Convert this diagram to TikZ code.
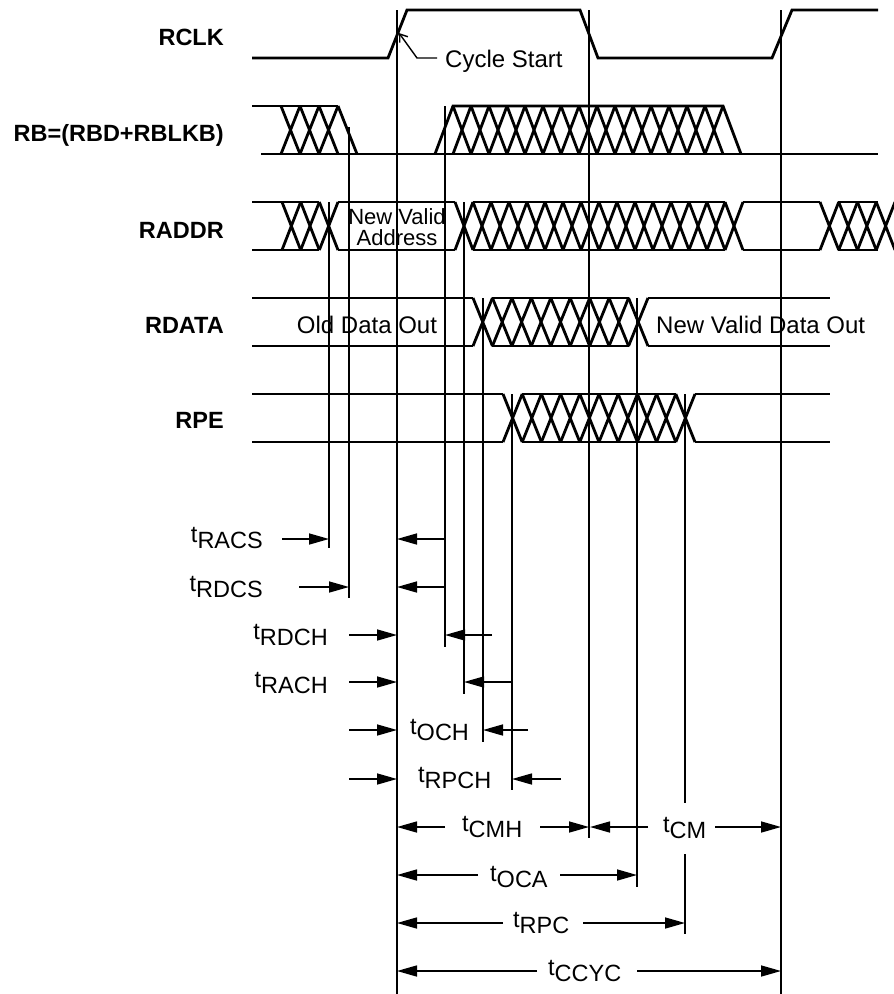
\documentclass[tikz,border=0pt]{standalone}
\usepackage{fontspec}
\setmainfont{Liberation Sans}
\usetikzlibrary{arrows.meta}
\newcommand\tsub[1]{t\raisebox{-6pt}{#1}}
\newcommand\xcells[5]{%
  \foreach \k in {1,...,#2}{%
    \pgfmathsetmacro\xa{#1+(\k-1)*#3}%
    \pgfmathsetmacro\xb{#1+\k*#3}%
    \draw[sig] (\xa,#4) -- (\xb,#5) (\xa,#5) -- (\xb,#4);}}
\begin{document}
\begin{tikzpicture}[x=1pt,y=-1pt,
  sig/.style={line width=2.8pt, line join=miter, line cap=butt},
  vline/.style={line width=1.6pt},
  arr/.style={line width=1.6pt,-{Triangle[length=20pt,width=11pt]}},
  siglabel/.style={font=\fontsize{23.5}{23.5}\selectfont\bfseries, anchor=base east, inner sep=0pt},
  txt/.style={font=\fontsize{24}{24}\selectfont, inner sep=0pt},
  tlabE/.style={font=\fontsize{23.5}{23.5}\selectfont, inner sep=0pt, anchor=base east},
  tlabW/.style={font=\fontsize{23.5}{23.5}\selectfont, inner sep=0pt, anchor=base west}
]
\useasboundingbox[fill=white] (0,0) rectangle (894,994);

% ---------- vertical timing lines ----------
\draw[vline] (329,202) -- (329,548);
\draw[vline] (349,127) -- (349,598);
\draw[vline] (397,10) -- (397,994);
\draw[vline] (445,106) -- (445,647);
\draw[vline] (464,202) -- (464,694);
\draw[vline] (483,298) -- (483,742);
\draw[vline] (512,394) -- (512,790);
\draw[vline] (589,10) -- (589,838);
\draw[vline] (637,298) -- (637,887);
\draw[vline] (685,394) -- (685,803) (685,854) -- (685,934);
\draw[vline] (781,10) -- (781,994);

% ---------- signal labels ----------
\node[siglabel] (lRCLK) at (224,45) {RCLK};
\node[siglabel] (lRB) at (224,141) {RB=(RBD+RBLKB)};
\node[siglabel] (lRADDR) at (224,238) {RADDR};
\node[siglabel] (lRDATA) at (224,333) {RDATA};
\node[siglabel] (lRPE) at (224,428) {RPE};

% ---------- RCLK ----------
\draw[sig] (252,58) -- (388,58) -- (407,10) -- (580,10) -- (598,58) -- (772,58) -- (792,10) -- (878,10);
\draw[line width=1.4pt, -{Straight Barb[length=7pt,width=10pt]}] (437,58) -- (417,58) -- (399,33);
\node[txt, anchor=base west] (cyc) at (445,67) {Cycle Start};

% ---------- RB ----------
\draw[sig] (252,106) -- (338,106);
\draw[sig] (261,154) -- (878,154);
\xcells{281}{3}{19}{106}{154}
\draw[sig] (338,106) -- (357,154);
\draw[sig] (435,154) -- (453,106) -- (723,106) -- (741,154);
\xcells{453}{15}{18}{106}{154}

% ---------- RADDR ----------
\draw[sig] (252,202) -- (319.3,202) (252,250) -- (319.3,250);
\xcells{282}{3}{18.667}{202}{250}
\draw[sig] (338,202) -- (455,202) (338,250) -- (455,250);
\xcells{455}{16}{18}{202}{250}
\draw[sig] (473,202) -- (725,202) (473,250) -- (725,250);
\draw[sig] (743,202) -- (820,202) (743,250) -- (820,250);
\xcells{820}{4}{18.75}{202}{250}
\draw[sig] (838,202) -- (878,202) (838,250) -- (878,250);
\node[txt, anchor=north, align=center, font=\fontsize{22}{21}\selectfont] (nva) at (397,208) {New Valid\\Address};

% ---------- RDATA ----------
\draw[sig] (252,298) -- (473,298) (252,346) -- (473,346);
\xcells{473}{9}{19.444}{298}{346}
\draw[sig] (492.4,298) -- (628.6,298) (492.4,346) -- (628.6,346);
\draw[sig] (648,298) -- (830,298) (648,346) -- (830,346);
\node[txt, anchor=base] (odo) at (367,333) {Old Data Out};
\node[txt, anchor=base west] (nvdo) at (656,333) {New Valid Data Out};

% ---------- RPE ----------
\draw[sig] (252,394) -- (503,394) (252,442) -- (503,442);
\xcells{503}{10}{19.2}{394}{442}
\draw[sig] (522.2,394) -- (675.8,394) (522.2,442) -- (675.8,442);
\draw[sig] (695,394) -- (830,394) (695,442) -- (830,442);

% ---------- timing annotations ----------
\node[tlabE] (racs) at (263,542) {\tsub{RACS}};
\draw[arr] (282,539) -- (329,539);
\draw[arr] (445,539) -- (397,539);

\node[tlabE] (rdcs) at (263,591) {\tsub{RDCS}};
\draw[arr] (299,587) -- (349,587);
\draw[arr] (445,587) -- (397,587);

\node[tlabE] (rdch) at (328,639) {\tsub{RDCH}};
\draw[arr] (349,635) -- (397,635);
\draw[arr] (492,635) -- (445,635);

\node[tlabE] (rach) at (328,687) {\tsub{RACH}};
\draw[arr] (349,682) -- (397,682);
\draw[arr] (512,682) -- (464,682);

\node[tlabW] (och) at (410,734) {\tsub{OCH}};
\draw[arr] (349,730) -- (397,730);
\draw[arr] (528,730) -- (483,730);

\node[tlabW] (rpch) at (418,782) {\tsub{RPCH}};
\draw[arr] (349,779) -- (397,779);
\draw[arr] (561,779) -- (512,779);

\node[tlabW] (cmh) at (462,831) {\tsub{CMH}};
\draw[arr] (445,827) -- (397,827);
\draw[arr] (540,827) -- (589,827);

\node[tlabW] (cm) at (663,832) {\tsub{CM}};
\draw[arr] (648,827) -- (590,827);
\draw[arr] (715,827) -- (781,827);

\node[tlabW] (oca) at (490,881) {\tsub{OCA}};
\draw[arr] (478,875) -- (397,875);
\draw[arr] (560,875) -- (637,875);

\node[tlabW] (rpc) at (513,927) {\tsub{RPC}};
\draw[arr] (503,923) -- (397,923);
\draw[arr] (583,923) -- (685,923);

\node[tlabW] (ccyc) at (548,975) {\tsub{CCYC}};
\draw[arr] (537,971) -- (397,971);
\draw[arr] (637,971) -- (781,971);
\end{tikzpicture}
\end{document}
